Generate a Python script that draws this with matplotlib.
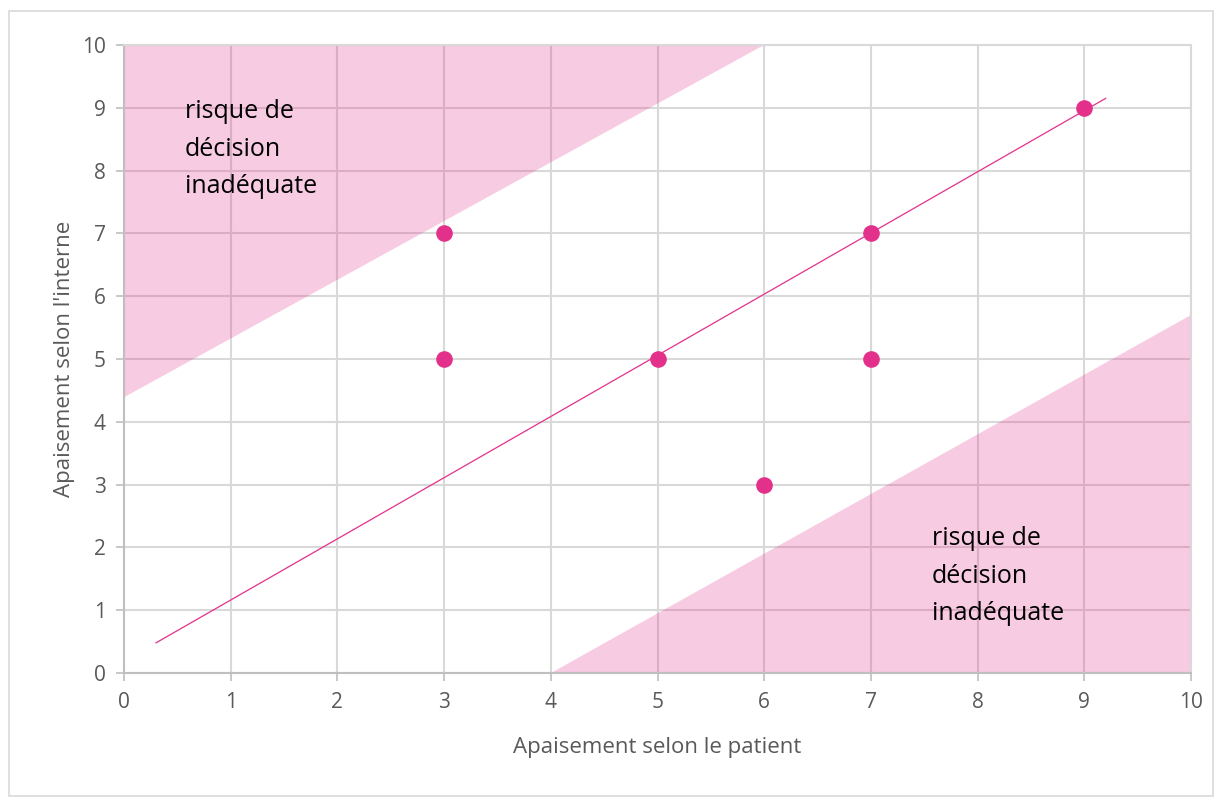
import matplotlib.pyplot as plt
from matplotlib.patches import Rectangle

plt.rcParams['font.family'] = ['Open Sans', 'DejaVu Sans']

# observations (patient vs intern)
patient = [3, 3, 5, 6, 7, 7, 9]
interne = [7, 5, 5, 3, 7, 5, 9]

# trend line endpoints
trend_x = [0.3, 9.2]
trend_y = [0.48, 9.15]

# risk zones
zone_haut_x = [-0.05, -0.05, 6.0]
zone_haut_y = [4.35, 10.0, 10.0]
zone_bas_x = [4.0, 10.0, 10.0]
zone_bas_y = [0.0, 0.0, 5.7]

ticks = list(range(11))
zone_label = "risque de\ndécision\ninadéquate"

PINK = "#e3308b"
GRID = "#d9d9d9"
TXT = "#595959"

fig = plt.figure(figsize=(12.25, 8.08), dpi=100)
ax = fig.add_axes([124 / 1225, 1 - 673 / 808, (1191 - 124) / 1225, (673 - 45) / 808])

fig.add_artist(Rectangle((9 / 1225, 1 - 796 / 808), 1204 / 1225, 785 / 808,
                         transform=fig.transFigure, fill=False,
                         edgecolor=GRID, linewidth=1.2))

ax.fill(zone_haut_x, zone_haut_y, color=PINK, alpha=0.25, linewidth=0, zorder=2)
ax.fill(zone_bas_x, zone_bas_y, color=PINK, alpha=0.25, linewidth=0, zorder=2)

ax.plot(trend_x, trend_y, color=PINK, linewidth=0.9, zorder=3)
ax.scatter(patient, interne, s=120, color=PINK, zorder=4, clip_on=False)

ax.text(0.57, 9.14, zone_label, ha="left", va="top", fontsize=18,
        linespacing=1.66, color="black", zorder=5)
ax.text(7.57, 2.34, zone_label, ha="left", va="top", fontsize=18,
        linespacing=1.66, color="black", zorder=5)

ax.set_xlim(0, 10)
ax.set_ylim(0, 10)
ax.set_xticks(ticks)
ax.set_yticks(ticks)
ax.grid(True, color=GRID, linewidth=1.5, zorder=0)
ax.set_axisbelow(True)
for s in ax.spines.values():
    s.set_color(GRID)
    s.set_linewidth(1.5)
ax.spines['left'].set_color("#bfbfbf")
ax.spines['bottom'].set_color("#bfbfbf")
ax.tick_params(axis='both', colors="#bfbfbf", labelcolor=TXT, labelsize=15,
               length=6, width=1.2)
ax.tick_params(axis='x', pad=8)
ax.tick_params(axis='y', pad=7)

ax.set_xlabel("Apaisement selon le patient", fontsize=16, color=TXT, labelpad=17)
ax.set_ylabel("Apaisement selon l'interne", fontsize=16, color=TXT, labelpad=5)

fig.savefig("out.png", dpi=100)
